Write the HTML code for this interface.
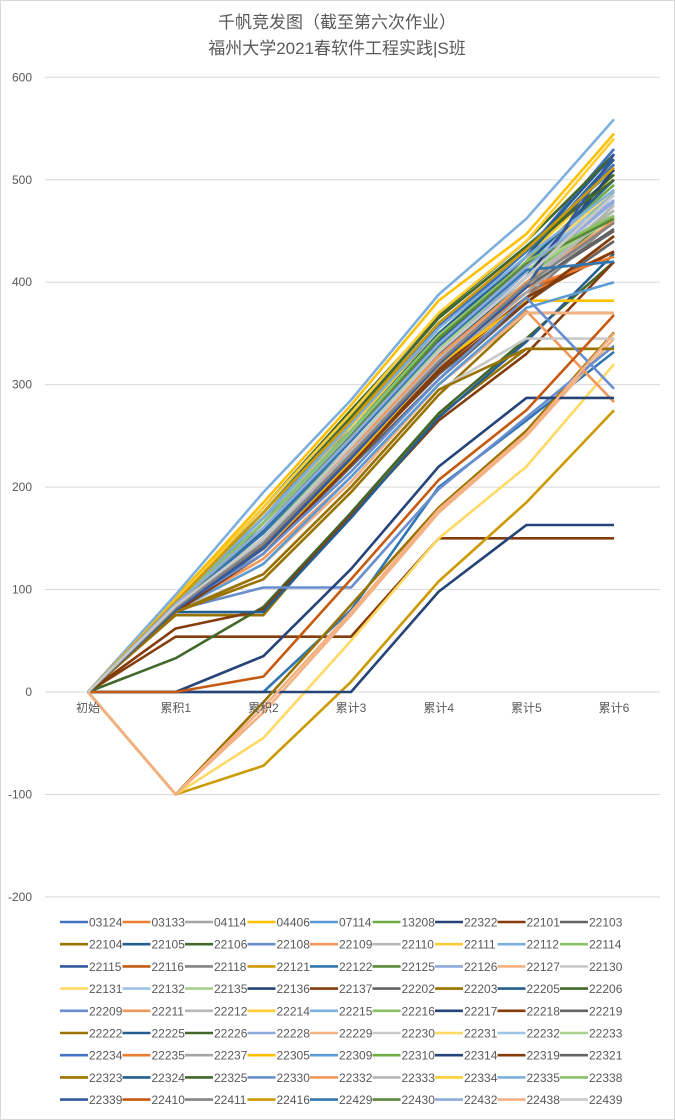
<!DOCTYPE html>
<html><head><meta charset="utf-8">
<style>
html,body{margin:0;padding:0;background:#fff;}
svg{display:block;font-family:"Liberation Sans","Noto Sans CJK SC",sans-serif;}
</style></head>
<body>
<svg id="chart" width="675" height="1120" viewBox="0 0 675 1120">
<rect x="0.5" y="0.5" width="674" height="1119" fill="#fff" stroke="#d9d9d9"/>
<text x="337" y="28" text-anchor="middle" font-size="17" fill="#595959">千帆竞发图（截至第六次作业）</text>
<text x="337" y="54" text-anchor="middle" font-size="17" fill="#595959">福州大学2021春软件工程实践|S班</text>
<g id="grid"></g><g id="series"></g><g id="axes"></g><g id="legend"></g>
</svg>
<script>
const categories=["初始","累积1","累积2","累计3","累计4","累计5","累计6"];
const yTicks=[-200,-100,0,100,200,300,400,500,600];
const names=["03124","03133","04114","04406","07114","13208","22322","22101","22103",
"22104","22105","22106","22108","22109","22110","22111","22112","22114",
"22115","22116","22118","22121","22122","22125","22126","22127","22130",
"22131","22132","22135","22136","22137","22202","22203","22205","22206",
"22209","22211","22212","22214","22215","22216","22217","22218","22219",
"22222","22225","22226","22228","22229","22230","22231","22232","22233",
"22234","22235","22237","22305","22309","22310","22314","22319","22321",
"22323","22324","22325","22330","22332","22333","22334","22335","22338",
"22339","22410","22411","22416","22429","22430","22432","22438","22439"];
const values=[
[0,88,170,265,360,430,530],
[0,85,160,250,350,420,520],
[0,80,150,240,330,405,480],
[0,92,185,280,382,447,545],
[0,90,175,270,365,435,510],
[0,86,160,245,340,415,490],
[0,84,165,255,345,425,515],
[0,54,54,54,150,150,150],
[0,80,140,230,320,395,450],
[0,75,75,175,270,335,335],
[0,82,165,260,355,430,525],
[0,33,83,175,272,345,420],
[0,87,160,245,340,410,470],
[0,80,145,230,318,385,440],
[0,82,150,235,325,395,475],
[0,88,170,255,345,420,500],
[0,95,195,285,388,462,559],
[0,85,150,240,335,410,485],
[0,86,165,255,350,425,515],
[0,82,150,235,325,390,430],
[0,78,140,225,315,385,460],
[0,-100,-72,10,108,185,275],
[0,0,0,80,200,265,332],
[0,84,150,240,330,400,465],
[0,88,165,250,345,420,490],
[0,-100,-20,75,175,250,345],
[0,80,145,235,325,400,480],
[0,-100,-45,50,150,220,320],
[0,90,170,255,345,420,495],
[0,85,155,240,335,410,470],
[0,0,0,0,98,163,163],
[0,62,80,172,265,330,420],
[0,82,140,225,310,380,440],
[0,-100,-10,85,180,255,351],
[0,78,78,170,268,342,428],
[0,90,180,275,368,440,525],
[0,80,102,102,198,268,338],
[0,80,130,210,300,372,283],
[0,82,145,232,325,398,475],
[0,88,170,260,350,425,505],
[0,86,160,250,340,415,488],
[0,84,155,240,330,405,470],
[0,0,35,120,220,287,287],
[0,80,140,225,315,385,430],
[0,82,135,220,305,380,445],
[0,78,110,195,290,370,370],
[0,86,165,255,350,425,520],
[0,88,170,262,360,430,505],
[0,84,150,240,330,410,478],
[0,80,125,205,300,370,370],
[0,80,115,200,295,345,345],
[0,86,160,250,340,415,490],
[0,88,165,252,345,420,480],
[0,85,160,248,338,412,462],
[0,87,170,262,358,430,515],
[0,82,148,235,322,395,425],
[0,80,140,228,318,390,460],
[0,85,140,225,320,382,382],
[0,80,125,210,300,375,400],
[0,86,165,255,348,420,495],
[0,82,150,238,330,405,510],
[0,78,135,222,312,380,445],
[0,80,142,230,320,395,452],
[0,78,115,200,295,335,335],
[0,84,158,248,342,418,500],
[0,88,175,268,365,435,500],
[0,82,135,215,305,385,296],
[0,84,150,238,328,400,460],
[0,82,148,235,322,396,470],
[0,90,180,272,370,440,540],
[0,88,170,262,355,425,490],
[0,86,165,255,348,420,465],
[0,80,140,228,320,395,525],
[0,0,15,110,207,275,368],
[0,82,145,232,322,398,458],
[0,88,175,265,360,432,512],
[0,84,155,245,338,412,420],
[0,85,160,250,345,418,462],
[0,86,160,248,340,415,480],
[0,-100,-15,78,178,252,350],
[0,84,150,240,332,405,485]
];
const A=["#4472C4","#ED7D31","#A5A5A5","#FFC000","#5B9BD5","#70AD47"],
D=["#264478","#843C0C","#636363","#997300","#255E91","#43682B"],
L=["#698ED0","#F1975A","#B7B7B7","#FFCD33","#7CAFDD","#8CC168"],
M=["#335AA1","#C55A11","#848484","#CC9A00","#3276B1","#5A8A39"],
LL=["#8FAADC","#F4B183","#C9C9C9","#FFD966","#9DC3E6","#A9D18E"];
const order=[A,D,L,M,LL,D,L,D,LL,A,D,L,M,LL];
const NS="http://www.w3.org/2000/svg";
const x0=88,dx=87.67,yZero=692,ppu=1.0245;
function xPos(i){return x0+i*dx;}
function yPos(v){return yZero-v*ppu;}
function mk(tag,attrs,parent){const e=document.createElementNS(NS,tag);for(const k in attrs)e.setAttribute(k,attrs[k]);parent.appendChild(e);return e;}
const grid=document.getElementById('grid'),axes=document.getElementById('axes'),ser=document.getElementById('series'),leg=document.getElementById('legend');
yTicks.forEach(t=>{
 const l=mk('line',{x1:45,x2:660,y1:yPos(t),y2:yPos(t),stroke:"#d9d9d9","stroke-width":1},grid);
 
 
 const tx=mk('text',{x:32,y:yPos(t)+4,"text-anchor":"end","font-size":12,fill:"#595959"},axes);
 tx.textContent=t;
 
 
});
categories.forEach((c,i)=>{
 const tx=mk('text',{x:xPos(i),y:712,"text-anchor":"middle","font-size":12,fill:"#595959"},axes);
 tx.textContent=c;
 
 
});
function colorOf(i){return order[Math.floor(i/6)%order.length][i%6];}
values.forEach((vals,s)=>{
 const pts=vals.map((v,i)=>xPos(i)+","+yPos(v)).join(" ");
 const p=mk('polyline',{points:pts,fill:"none",stroke:colorOf(s),"stroke-width":2.6,"stroke-linejoin":"round"},ser);
 
 
});
names.forEach((n,i)=>{
 const r=Math.floor(i/9),c=i%9;
 const lx=60+c*62.5,ly=922+r*22.2;
 const g=mk('g',{},leg);
 
 
 mk('line',{x1:lx,x2:lx+28,y1:ly,y2:ly,stroke:colorOf(i),"stroke-width":2.6},g);
 const t=mk('text',{x:lx+29,y:ly+4.5,"font-size":12,fill:"#595959"},g);
 t.textContent=n;
});
</script>
</body></html>
